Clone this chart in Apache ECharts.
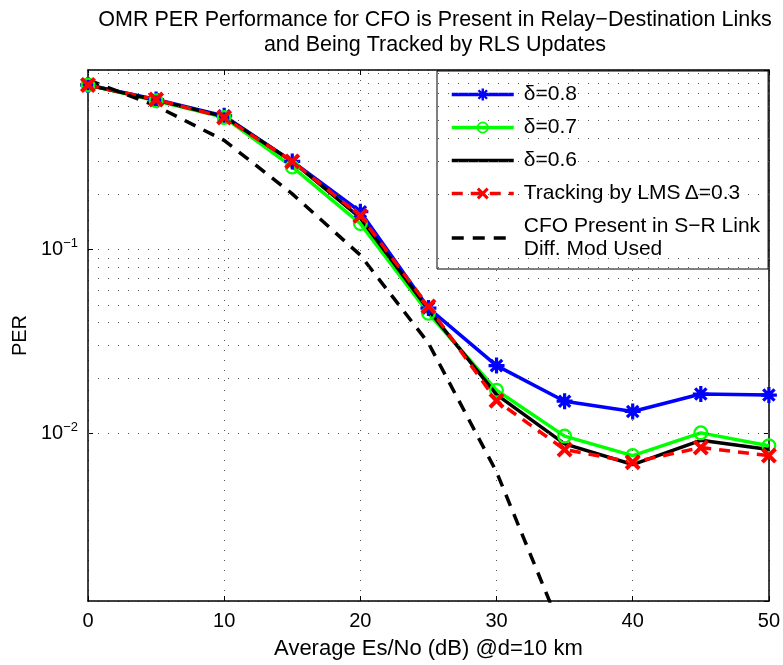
<!DOCTYPE html>
<html>
<head>
<meta charset="utf-8">
<script src="https://cdn.jsdelivr.net/npm/echarts@6/dist/echarts.min.js"></script>
<style>
html,body{margin:0;padding:0;background:#fff;}
#chart{width:783px;height:665px;}
</style>
</head>
<body>
<div id="chart"></div>
<script>
// ---- data ----
var snrDb = [0, 5, 10, 15, 20, 25, 30, 35, 40, 45, 50];
var perDelta08 = [0.78, 0.65, 0.53, 0.30, 0.160, 0.048, 0.0234, 0.0150, 0.0132, 0.0164, 0.0162];
var perDelta07 = [0.78, 0.64, 0.52, 0.28, 0.138, 0.045, 0.0172, 0.0097, 0.0076, 0.0101, 0.0086];
var perDelta06 = [0.78, 0.645, 0.525, 0.30, 0.148, 0.047, 0.0163, 0.0088, 0.0068, 0.0092, 0.0082];
var perLms = [0.78, 0.65, 0.52, 0.30, 0.152, 0.049, 0.0151, 0.0082, 0.0070, 0.0084, 0.0076];
var snrCfo = [0, 5, 10, 15, 20, 25, 30, 35];
var perCfo = [0.83, 0.60, 0.39, 0.20, 0.093, 0.031, 0.0062, 0.00078];
var minorGridValues = [0.002,0.003,0.004,0.005,0.006,0.007,0.008,0.009,
                       0.02,0.03,0.04,0.05,0.06,0.07,0.08,0.09,
                       0.2,0.3,0.4,0.5,0.6,0.7,0.8,0.9];
var seriesNames = ['\u03b4=0.8', '\u03b4=0.7', '\u03b4=0.6', 'Tracking by LMS\u2009\u0394=0.3',
                   'CFO Present in S\u2212R Link\nDiff. Mod Used'];
var titleText = 'OMR PER Performance for CFO is Present in Relay\u2212Destination Links\nand Being Tracked by RLS Updates';
var xName = 'Average Es/No (dB) @d=10 km';
var yName = 'PER';

function pairs(xs, ys) { return ys.map(function (v, i) { return [xs[i], v]; }); }

var FONT = 'Liberation Sans, Arial, Helvetica, sans-serif';
var asteriskPath = 'path://M-10,-2L10,-2L10,2L-10,2Z M-2,-10L2,-10L2,10L-2,10Z ' +
  'M-5.66,-8.49L8.49,5.66L5.66,8.49L-8.49,-5.66Z M-8.49,5.66L5.66,-8.49L8.49,-5.66L-5.66,8.49Z';
var crossPath = 'path://M-9.9,-6.36L-6.36,-9.9L9.9,6.36L6.36,9.9Z M-9.9,6.36L6.36,-9.9L9.9,-6.36L-6.36,9.9Z';
var ringPath = 'path://M0,-10A10,10,0,1,1,0,10A10,10,0,1,1,0,-10Z M0,-7A7,7,0,1,0,0,7A7,7,0,1,0,0,-7Z';

var dotted = { type: [1, 9], color: '#555', width: 1 };
var yMin = 0.001236, yMax = 0.94;

var chart = echarts.init(document.getElementById('chart'), null, { renderer: 'canvas' });
chart.setOption({
  backgroundColor: '#fff',
  animation: false,
  textStyle: { fontFamily: FONT },
  title: {
    text: titleText,
    left: 430, top: 3, textAlign: 'center',
    textStyle: { fontFamily: FONT, fontSize: 21.5, fontWeight: 'normal', color: '#000', lineHeight: 25 }
  },
  grid: { left: 88, right: 13, top: 70, bottom: 62, containLabel: false },
  legend: {
    data: seriesNames.map(function (n, i) {
      return (i === 2 || i === 4) ? { name: n, itemStyle: { opacity: 0 } } : { name: n };
    }),
    orient: 'vertical',
    left: 437, top: 71,
    padding: [12, 8, 8, 13],
    itemGap: 10,
    itemWidth: 62, itemHeight: 15,
    backgroundColor: '#fff',
    borderColor: '#000', borderWidth: 1, borderRadius: 0,
    lineStyle: { width: 3.5 },
    textStyle: { fontFamily: FONT, fontSize: 21, color: '#000', lineHeight: 23, padding: [0, 0, 0, 5] }
  },
  xAxis: [{
    type: 'value', min: 0, max: 50, interval: 10,
    name: xName, nameLocation: 'middle', nameGap: 37,
    nameTextStyle: { fontFamily: FONT, fontSize: 22, color: '#000' },
    axisLine: { show: true, onZero: false, lineStyle: { color: '#000', width: 1.5 } },
    axisTick: { show: true, inside: true, length: 5, lineStyle: { color: '#000' } },
    axisLabel: { show: true, margin: 10, fontFamily: FONT, fontSize: 20, color: '#000' },
    splitLine: { show: true, lineStyle: dotted }
  }, {
    type: 'value', min: 0, max: 50, interval: 10, position: 'top',
    axisLine: { show: true, onZero: false, lineStyle: { color: '#000', width: 1.5 } },
    axisTick: { show: true, inside: true, length: 5, lineStyle: { color: '#000' } },
    axisLabel: { show: false },
    splitLine: { show: false }
  }],
  yAxis: [{
    type: 'log', logBase: 10, min: yMin, max: yMax,
    name: yName, nameLocation: 'middle', nameGap: 44, nameRotate: 90,
    nameTextStyle: { fontFamily: FONT, fontSize: 20, color: '#000' },
    axisLine: { show: true, onZero: false, lineStyle: { color: '#000', width: 1.5 } },
    axisTick: { show: true, inside: true, length: 5, lineStyle: { color: '#000' } },
    axisLabel: {
      show: true, margin: 10, showMinLabel: false, showMaxLabel: false,
      formatter: function (v) {
        var l = Math.log10(v), e = Math.round(l);
        if (Math.abs(l - e) > 1e-6) return '';
        return '{b|10}{s|' + (e < 0 ? '\u2212' : '') + Math.abs(e) + '}';
      },
      rich: {
        b: { fontFamily: FONT, fontSize: 20, color: '#000' },
        s: { fontFamily: FONT, fontSize: 13, color: '#000', padding: [0, 0, 12, 0] }
      }
    },
    splitLine: { show: true, lineStyle: dotted }
  }, {
    type: 'log', logBase: 10, min: yMin, max: yMax, position: 'right',
    axisLine: { show: true, onZero: false, lineStyle: { color: '#000', width: 1.5 } },
    axisTick: { show: true, inside: true, length: 5, lineStyle: { color: '#000' } },
    axisLabel: { show: false },
    splitLine: { show: false }
  }],
  series: [
    {
      type: 'line', name: 'grid-minor', data: [], silent: true,
      markLine: {
        silent: true, symbol: 'none', label: { show: false },
        lineStyle: dotted, animation: false,
        data: minorGridValues.map(function (v) { return { yAxis: v }; })
      }
    },
    {
      type: 'line', name: seriesNames[0], data: pairs(snrDb, perDelta08),
      color: '#0000ff', symbol: asteriskPath, symbolSize: 16,
      lineStyle: { color: '#0000ff', width: 3.5 },
      itemStyle: { color: '#0000ff' }
    },
    {
      type: 'line', name: seriesNames[1], data: pairs(snrDb, perDelta07),
      color: '#00ff00', symbol: ringPath, symbolSize: 15,
      lineStyle: { color: '#00ff00', width: 3.5 },
      itemStyle: { color: '#00ff00' }
    },
    {
      type: 'line', name: seriesNames[2], data: pairs(snrDb, perDelta06),
      color: '#000000', symbol: 'none',
      lineStyle: { color: '#000000', width: 3.5 }
    },
    {
      type: 'line', name: seriesNames[3], data: pairs(snrDb, perLms),
      color: '#ff0000', symbol: crossPath, symbolSize: 16,
      lineStyle: { color: '#ff0000', width: 3.5, type: [11, 8] },
      itemStyle: { color: '#ff0000' }
    },
    {
      type: 'line', name: seriesNames[4], data: pairs(snrCfo, perCfo),
      color: '#000000', symbol: 'none', clip: true,
      lineStyle: { color: '#000000', width: 3.5, type: [12, 9] }
    }
  ]
});
</script>
</body>
</html>
